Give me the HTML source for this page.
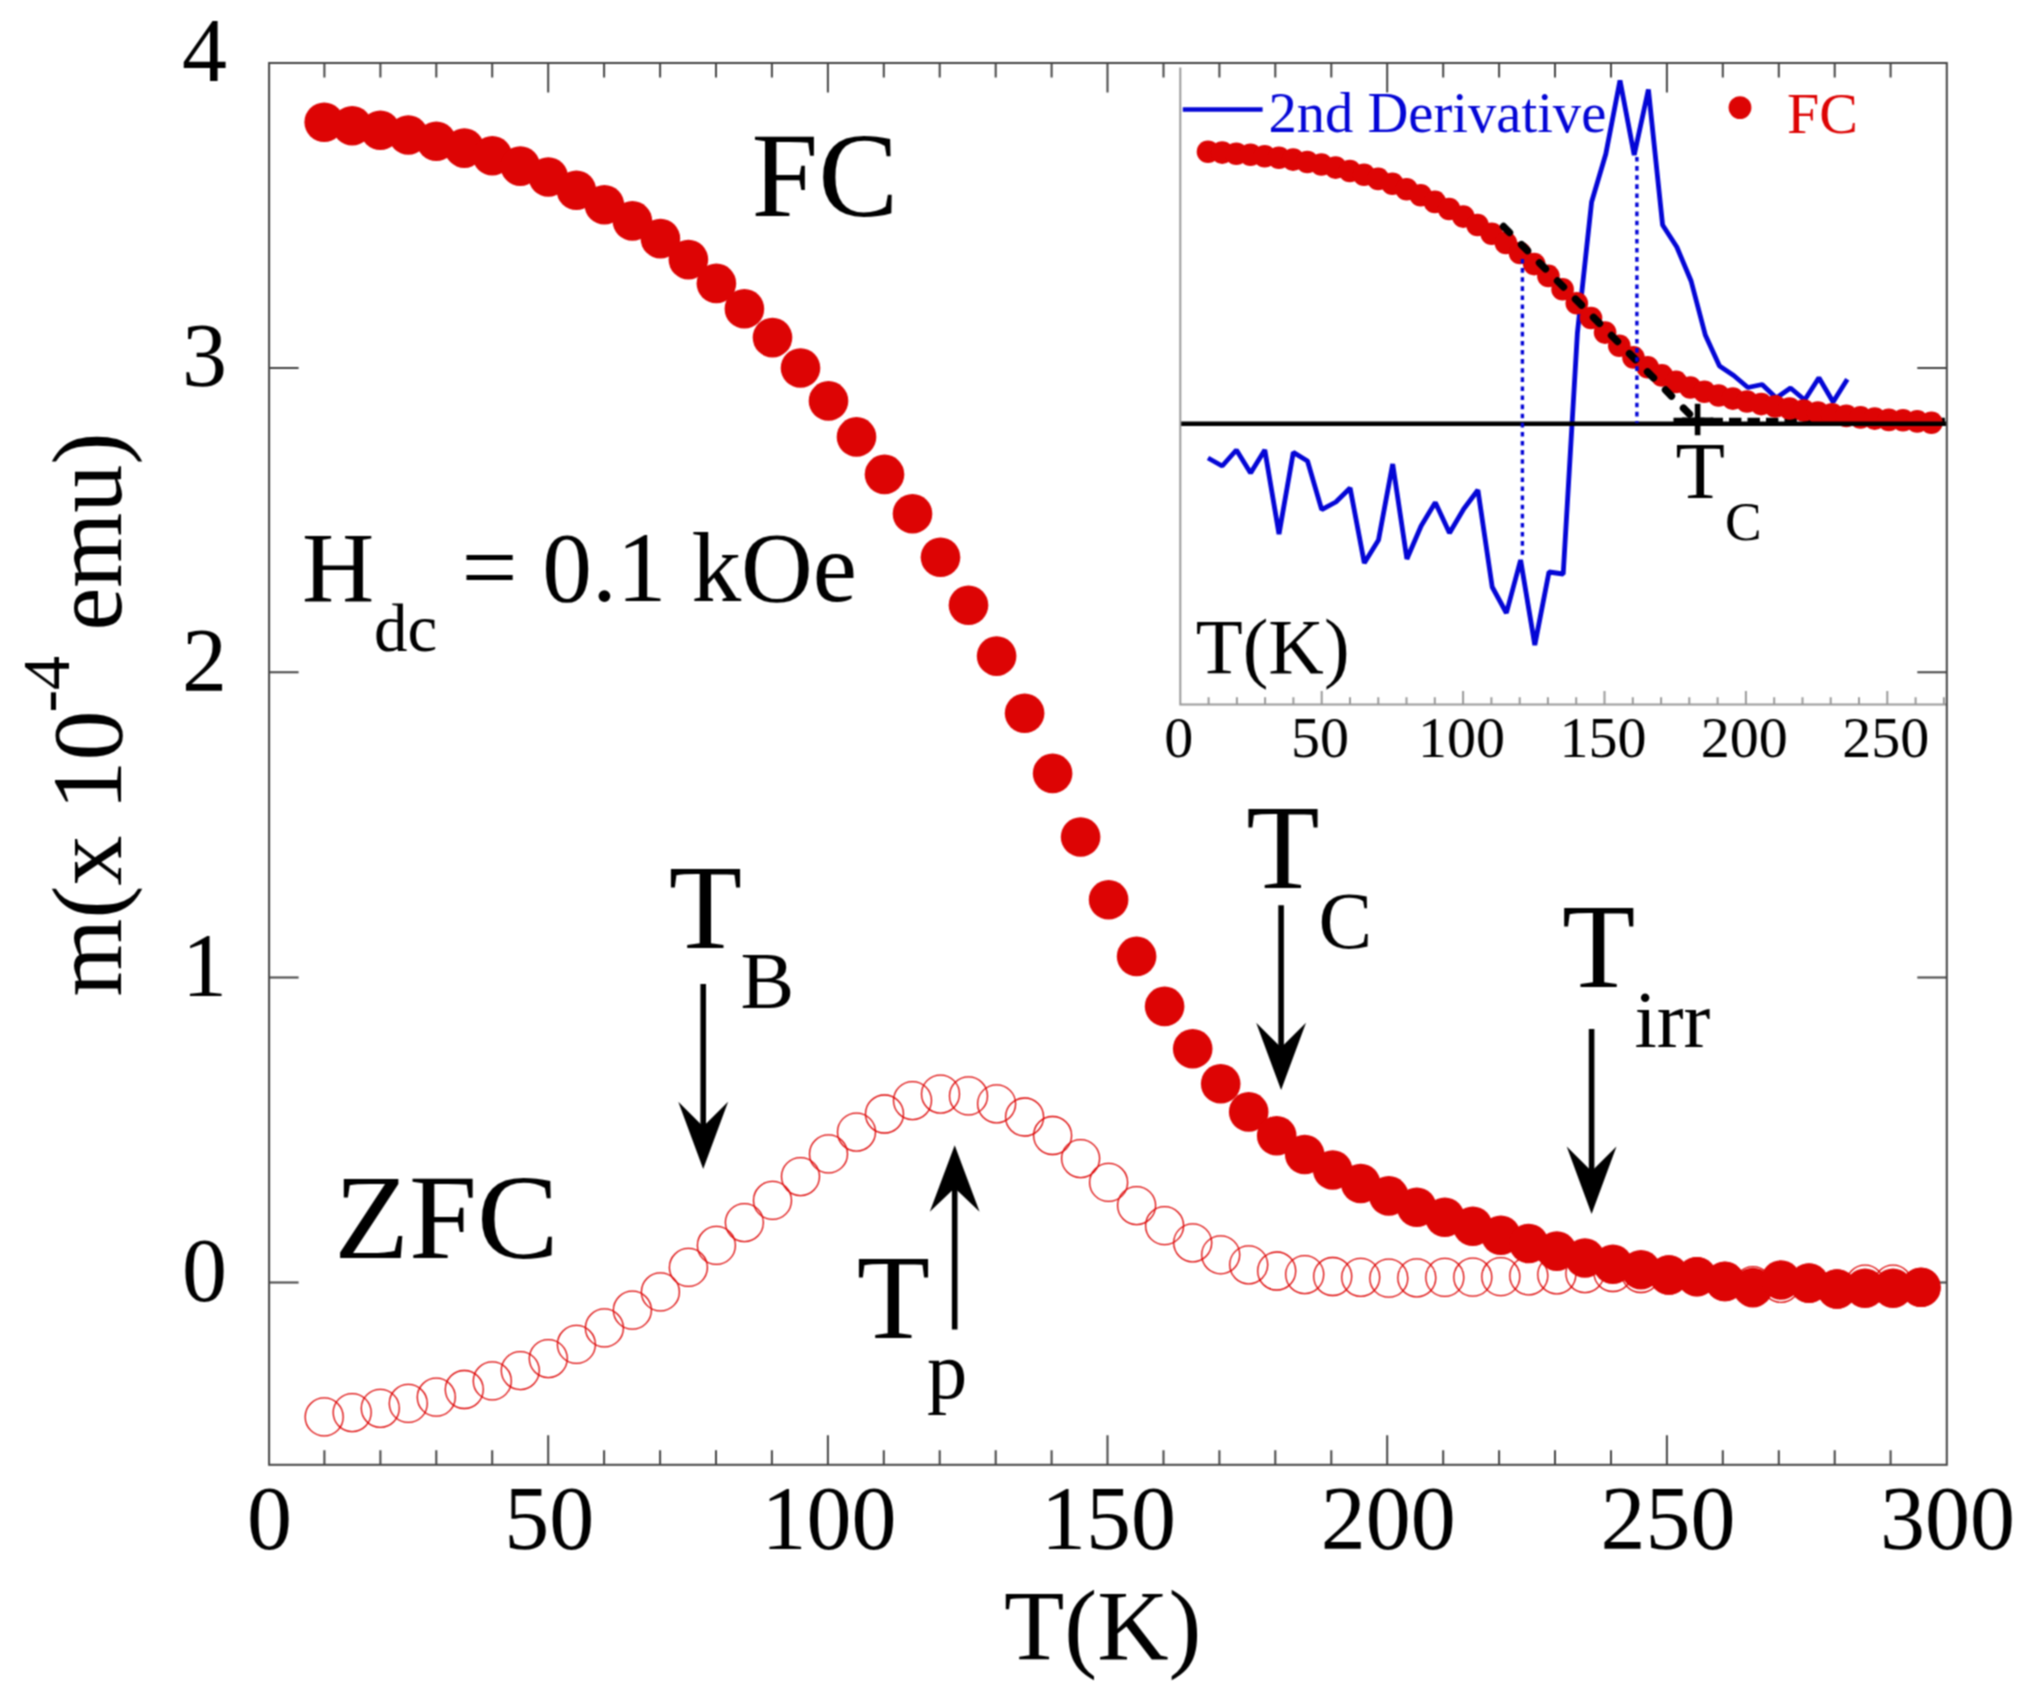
<!DOCTYPE html>
<html lang="en"><head><meta charset="utf-8"><title>FC / ZFC magnetization versus temperature</title>
<style>
html,body{margin:0;padding:0;background:#fff;}
body{width:2030px;height:1701px;overflow:hidden;}
svg{display:block;}
text{font-family:"Liberation Serif",serif;fill:#000;}
.tk{stroke:#444444;stroke-width:2;fill:none;}
.itk{stroke:#999999;stroke-width:2;fill:none;}
.ax{font-size:90px;}
.ttl{font-size:100px;}
.big{font-size:120px;}
.iax{font-size:58px;}
.arr{stroke:#000;stroke-width:5.6;fill:none;}
</style></head><body>
<svg width="2030" height="1701" viewBox="0 0 2030 1701">
<defs><filter id="soft" filterUnits="userSpaceOnUse" x="-20" y="-20" width="2070" height="1741" color-interpolation-filters="sRGB"><feConvolveMatrix order="3" kernelMatrix="0.0625 0.125 0.0625 0.125 0.25 0.125 0.0625 0.125 0.0625" divisor="1" edgeMode="duplicate" preserveAlpha="true"/></filter></defs>
<g filter="url(#soft)">
<rect x="-20" y="-20" width="2070" height="1741" fill="#ffffff"/>
<g class="tk">
<path d="M324.4 63.0v14.5M324.4 1464.8v-14.5M380.4 63.0v14.5M380.4 1464.8v-14.5M436.3 63.0v14.5M436.3 1464.8v-14.5M492.2 63.0v14.5M492.2 1464.8v-14.5M548.2 63.0v29.5M548.2 1464.8v-29.5M604.1 63.0v14.5M604.1 1464.8v-14.5M660.1 63.0v14.5M660.1 1464.8v-14.5M716.0 63.0v14.5M716.0 1464.8v-14.5M771.9 63.0v14.5M771.9 1464.8v-14.5M827.9 63.0v29.5M827.9 1464.8v-29.5M883.8 63.0v14.5M883.8 1464.8v-14.5M939.7 63.0v14.5M939.7 1464.8v-14.5M995.7 63.0v14.5M995.7 1464.8v-14.5M1051.6 63.0v14.5M1051.6 1464.8v-14.5M1107.5 63.0v29.5M1107.5 1464.8v-29.5M1163.5 63.0v14.5M1163.5 1464.8v-14.5M1219.4 63.0v14.5M1219.4 1464.8v-14.5M1275.3 63.0v14.5M1275.3 1464.8v-14.5M1331.3 63.0v14.5M1331.3 1464.8v-14.5M1387.2 63.0v29.5M1387.2 1464.8v-29.5M1443.2 63.0v14.5M1443.2 1464.8v-14.5M1499.1 63.0v14.5M1499.1 1464.8v-14.5M1555.0 63.0v14.5M1555.0 1464.8v-14.5M1611.0 63.0v14.5M1611.0 1464.8v-14.5M1666.9 63.0v29.5M1666.9 1464.8v-29.5M1722.8 63.0v14.5M1722.8 1464.8v-14.5M1778.8 63.0v14.5M1778.8 1464.8v-14.5M1834.7 63.0v14.5M1834.7 1464.8v-14.5M1890.6 63.0v14.5M1890.6 1464.8v-14.5M269.1 367.9h29.5M1946.8 367.9h-29.5M269.1 672.3h29.5M1946.8 672.3h-29.5M269.1 977.4h29.5M1946.8 977.4h-29.5M269.1 1282.4h29.5M1946.8 1282.4h-29.5"/>
</g>
<g class="ax" text-anchor="end">
<text x="227" y="81.2">4</text>
<text x="227" y="386.1">3</text>
<text x="227" y="690.5">2</text>
<text x="227" y="995.6">1</text>
<text x="227" y="1300.6">0</text>
</g>
<g class="ax" text-anchor="middle">
<text x="269.5" y="1549">0</text>
<text x="549.2" y="1549">50</text>
<text x="828.9" y="1549">100</text>
<text x="1108.5" y="1549">150</text>
<text x="1388.2" y="1549">200</text>
<text x="1667.9" y="1549">250</text>
<text x="1947.6" y="1549">300</text>
</g>
<text class="ttl" x="1003.9" y="1658.6" textLength="197.5" lengthAdjust="spacingAndGlyphs">T(K)</text>
<g transform="translate(121.2 996.5) rotate(-90)">
<text class="ttl" x="0" y="0">m(x 10</text>
<text x="283.9" y="-52" font-size="68">-4</text>
<text class="ttl" x="366" y="0" textLength="198" lengthAdjust="spacingAndGlyphs">emu)</text>
</g>
<g fill="none" stroke="#dd0404" stroke-width="1.3">
<circle cx="324.2" cy="1416.9" r="19.0"/>
<circle cx="352.2" cy="1412.6" r="19.0"/>
<circle cx="380.3" cy="1408.3" r="19.0"/>
<circle cx="408.3" cy="1403.4" r="19.0"/>
<circle cx="436.3" cy="1397.2" r="19.0"/>
<circle cx="464.3" cy="1389.5" r="19.0"/>
<circle cx="492.3" cy="1380.9" r="19.0"/>
<circle cx="520.3" cy="1370.6" r="19.0"/>
<circle cx="548.3" cy="1358.6" r="19.0"/>
<circle cx="576.4" cy="1344.4" r="19.0"/>
<circle cx="604.4" cy="1327.9" r="19.0"/>
<circle cx="632.4" cy="1310.2" r="19.0"/>
<circle cx="660.4" cy="1291.9" r="19.0"/>
<circle cx="688.4" cy="1267.4" r="19.0"/>
<circle cx="716.4" cy="1245.4" r="19.0"/>
<circle cx="744.4" cy="1222.6" r="19.0"/>
<circle cx="772.5" cy="1200.4" r="19.0"/>
<circle cx="800.5" cy="1176.6" r="19.0"/>
<circle cx="828.5" cy="1153.9" r="19.0"/>
<circle cx="856.5" cy="1132.1" r="19.0"/>
<circle cx="884.5" cy="1114.0" r="19.0"/>
<circle cx="912.5" cy="1100.6" r="19.0"/>
<circle cx="940.5" cy="1094.1" r="19.0"/>
<circle cx="968.5" cy="1095.9" r="19.0"/>
<circle cx="996.6" cy="1103.8" r="19.0"/>
<circle cx="1024.6" cy="1117.0" r="19.0"/>
<circle cx="1052.6" cy="1135.5" r="19.0"/>
<circle cx="1080.6" cy="1158.6" r="19.0"/>
<circle cx="1108.6" cy="1182.4" r="19.0"/>
<circle cx="1136.6" cy="1205.6" r="19.0"/>
<circle cx="1164.6" cy="1225.7" r="19.0"/>
<circle cx="1192.7" cy="1242.8" r="19.0"/>
<circle cx="1220.7" cy="1254.8" r="19.0"/>
<circle cx="1248.7" cy="1264.8" r="19.0"/>
<circle cx="1276.7" cy="1271.0" r="19.0"/>
<circle cx="1304.7" cy="1274.6" r="19.0"/>
<circle cx="1332.7" cy="1276.5" r="19.0"/>
<circle cx="1360.7" cy="1277.3" r="19.0"/>
<circle cx="1388.8" cy="1278.2" r="19.0"/>
<circle cx="1416.8" cy="1277.8" r="19.0"/>
<circle cx="1444.8" cy="1277.4" r="19.0"/>
<circle cx="1472.8" cy="1277.2" r="19.0"/>
<circle cx="1500.8" cy="1276.7" r="19.0"/>
<circle cx="1528.8" cy="1275.8" r="19.0"/>
<circle cx="1556.8" cy="1274.8" r="19.0"/>
<circle cx="1584.9" cy="1273.6" r="19.0"/>
<circle cx="1612.9" cy="1272.5" r="19.0"/>
<circle cx="1640.9" cy="1273.5" r="19.0"/>
<circle cx="1668.9" cy="1275.0" r="19.0"/>
<circle cx="1696.9" cy="1276.7" r="19.0"/>
<circle cx="1724.9" cy="1281.5" r="19.0"/>
<circle cx="1752.9" cy="1285.6" r="19.0"/>
<circle cx="1781.0" cy="1283.3" r="19.0"/>
<circle cx="1809.0" cy="1283.1" r="19.0"/>
<circle cx="1837.0" cy="1289.0" r="19.0"/>
<circle cx="1865.0" cy="1284.2" r="19.0"/>
<circle cx="1893.0" cy="1284.2" r="19.0"/>
<circle cx="1921.0" cy="1287.4" r="19.0"/>
</g>
<g fill="#dd0404">
<circle cx="324.2" cy="122.2" r="19.8"/>
<circle cx="352.2" cy="125.7" r="19.8"/>
<circle cx="380.3" cy="130.3" r="19.8"/>
<circle cx="408.3" cy="135.0" r="19.8"/>
<circle cx="436.3" cy="141.2" r="19.8"/>
<circle cx="464.3" cy="148.1" r="19.8"/>
<circle cx="492.3" cy="155.7" r="19.8"/>
<circle cx="520.3" cy="166.1" r="19.8"/>
<circle cx="548.3" cy="177.0" r="19.8"/>
<circle cx="576.4" cy="190.3" r="19.8"/>
<circle cx="604.4" cy="204.8" r="19.8"/>
<circle cx="632.4" cy="220.9" r="19.8"/>
<circle cx="660.4" cy="238.6" r="19.8"/>
<circle cx="688.4" cy="259.6" r="19.8"/>
<circle cx="716.4" cy="283.4" r="19.8"/>
<circle cx="744.4" cy="308.8" r="19.8"/>
<circle cx="772.5" cy="337.6" r="19.8"/>
<circle cx="800.5" cy="368.0" r="19.8"/>
<circle cx="828.5" cy="400.9" r="19.8"/>
<circle cx="856.5" cy="436.9" r="19.8"/>
<circle cx="884.5" cy="474.4" r="19.8"/>
<circle cx="912.5" cy="513.8" r="19.8"/>
<circle cx="940.5" cy="557.3" r="19.8"/>
<circle cx="968.5" cy="605.2" r="19.8"/>
<circle cx="996.6" cy="656.1" r="19.8"/>
<circle cx="1024.6" cy="713.2" r="19.8"/>
<circle cx="1052.6" cy="773.4" r="19.8"/>
<circle cx="1080.6" cy="837.0" r="19.8"/>
<circle cx="1108.6" cy="899.7" r="19.8"/>
<circle cx="1136.6" cy="956.4" r="19.8"/>
<circle cx="1164.6" cy="1006.4" r="19.8"/>
<circle cx="1192.7" cy="1048.8" r="19.8"/>
<circle cx="1220.7" cy="1083.8" r="19.8"/>
<circle cx="1248.7" cy="1111.9" r="19.8"/>
<circle cx="1276.7" cy="1135.7" r="19.8"/>
<circle cx="1304.7" cy="1154.5" r="19.8"/>
<circle cx="1332.7" cy="1170.0" r="19.8"/>
<circle cx="1360.7" cy="1183.5" r="19.8"/>
<circle cx="1388.8" cy="1195.9" r="19.8"/>
<circle cx="1416.8" cy="1207.3" r="19.8"/>
<circle cx="1444.8" cy="1217.2" r="19.8"/>
<circle cx="1472.8" cy="1226.3" r="19.8"/>
<circle cx="1500.8" cy="1235.2" r="19.8"/>
<circle cx="1528.8" cy="1243.5" r="19.8"/>
<circle cx="1556.8" cy="1251.1" r="19.8"/>
<circle cx="1584.9" cy="1258.0" r="19.8"/>
<circle cx="1612.9" cy="1264.3" r="19.8"/>
<circle cx="1640.9" cy="1269.7" r="19.8"/>
<circle cx="1668.9" cy="1275.0" r="19.8"/>
<circle cx="1696.9" cy="1276.7" r="19.8"/>
<circle cx="1724.9" cy="1281.4" r="19.8"/>
<circle cx="1752.9" cy="1287.6" r="19.8"/>
<circle cx="1781.0" cy="1280.0" r="19.8"/>
<circle cx="1809.0" cy="1283.1" r="19.8"/>
<circle cx="1837.0" cy="1289.0" r="19.8"/>
<circle cx="1865.0" cy="1288.3" r="19.8"/>
<circle cx="1893.0" cy="1288.3" r="19.8"/>
<circle cx="1921.0" cy="1287.3" r="19.8"/>
</g>
<polyline points="1208.0,458.0 1222.2,466.0 1236.4,450.0 1250.6,473.0 1264.8,450.0 1279.0,534.0 1293.3,452.4 1307.5,461.0 1321.7,509.6 1335.9,502.0 1350.1,488.0 1364.3,563.0 1378.5,540.0 1392.7,464.0 1406.9,559.0 1421.1,526.0 1435.3,502.4 1449.5,533.0 1463.7,509.0 1477.9,490.0 1492.2,587.0 1506.4,613.0 1520.6,560.0 1534.8,645.0 1549.0,572.0 1563.2,574.0 1577.4,333.0 1591.6,202.0 1605.8,154.0 1620.0,80.4 1634.2,155.0 1648.4,89.6 1662.6,225.0 1676.8,247.0 1691.1,281.0 1705.3,335.0 1719.5,366.0 1733.7,375.5 1747.9,387.5 1762.1,384.5 1776.3,398.0 1790.5,388.0 1804.7,400.0 1818.9,377.7 1833.1,402.0 1847.3,379.2" fill="none" stroke="#0406d6" stroke-width="4.8" stroke-linejoin="bevel"/>
<path d="M1673.5 420.6H1946.8" stroke="#000" stroke-width="5.6" stroke-dasharray="12.4 6.1" fill="none"/>
<g fill="#dd0404">
<circle cx="1208.0" cy="151.8" r="11.3"/>
<circle cx="1222.2" cy="152.6" r="11.3"/>
<circle cx="1236.3" cy="153.7" r="11.3"/>
<circle cx="1250.5" cy="154.8" r="11.3"/>
<circle cx="1264.7" cy="156.2" r="11.3"/>
<circle cx="1278.9" cy="157.8" r="11.3"/>
<circle cx="1293.1" cy="159.6" r="11.3"/>
<circle cx="1307.3" cy="162.0" r="11.3"/>
<circle cx="1321.4" cy="164.5" r="11.3"/>
<circle cx="1335.6" cy="167.6" r="11.3"/>
<circle cx="1349.8" cy="171.0" r="11.3"/>
<circle cx="1364.0" cy="174.7" r="11.3"/>
<circle cx="1378.2" cy="178.9" r="11.3"/>
<circle cx="1392.4" cy="183.7" r="11.3"/>
<circle cx="1406.6" cy="189.3" r="11.3"/>
<circle cx="1420.7" cy="195.2" r="11.3"/>
<circle cx="1434.9" cy="201.9" r="11.3"/>
<circle cx="1449.1" cy="209.0" r="11.3"/>
<circle cx="1463.3" cy="216.6" r="11.3"/>
<circle cx="1477.5" cy="225.0" r="11.3"/>
<circle cx="1491.7" cy="233.7" r="11.3"/>
<circle cx="1505.9" cy="242.9" r="11.3"/>
<circle cx="1520.0" cy="253.0" r="11.3"/>
<circle cx="1534.2" cy="264.1" r="11.3"/>
<circle cx="1548.4" cy="275.9" r="11.3"/>
<circle cx="1562.6" cy="289.2" r="11.3"/>
<circle cx="1576.8" cy="303.2" r="11.3"/>
<circle cx="1591.0" cy="318.0" r="11.3"/>
<circle cx="1605.1" cy="332.6" r="11.3"/>
<circle cx="1619.3" cy="345.8" r="11.3"/>
<circle cx="1633.5" cy="357.4" r="11.3"/>
<circle cx="1647.7" cy="367.3" r="11.3"/>
<circle cx="1661.9" cy="375.4" r="11.3"/>
<circle cx="1676.1" cy="381.9" r="11.3"/>
<circle cx="1690.3" cy="387.5" r="11.3"/>
<circle cx="1704.4" cy="391.8" r="11.3"/>
<circle cx="1718.6" cy="395.5" r="11.3"/>
<circle cx="1732.8" cy="398.6" r="11.3"/>
<circle cx="1747.0" cy="401.5" r="11.3"/>
<circle cx="1761.2" cy="404.1" r="11.3"/>
<circle cx="1775.4" cy="406.4" r="11.3"/>
<circle cx="1789.6" cy="408.5" r="11.3"/>
<circle cx="1803.7" cy="410.6" r="11.3"/>
<circle cx="1817.9" cy="412.5" r="11.3"/>
<circle cx="1832.1" cy="414.3" r="11.3"/>
<circle cx="1846.3" cy="415.9" r="11.3"/>
<circle cx="1860.5" cy="417.4" r="11.3"/>
<circle cx="1874.7" cy="418.6" r="11.3"/>
<circle cx="1888.8" cy="419.9" r="11.3"/>
<circle cx="1903.0" cy="420.3" r="11.3"/>
<circle cx="1917.2" cy="421.4" r="11.3"/>
<circle cx="1931.4" cy="422.8" r="11.3"/>
</g>
<path d="M1180.3 423.7H1946.8" stroke="#000" stroke-width="4.4" fill="none"/>
<path d="M1503.5 226.5L1509.5 232.5M1521.5 244.6L1527.5 250.7M1539.5 262.8L1545.5 268.9M1557.5 281.0L1563.5 287.0M1575.5 299.2L1581.5 305.2M1593.5 317.3L1599.5 323.4M1611.5 335.5L1617.5 341.5M1629.5 353.7L1635.5 359.7M1647.5 371.8L1653.5 377.9M1665.5 390.0L1671.5 396.1M1683.5 408.2L1689.5 414.2" stroke="#000" stroke-width="7.4" stroke-linecap="round" fill="none"/>
<path d="M1697.6 403.8V435.2M1682 420.4H1713.3" stroke="#000" stroke-width="5.6" fill="none"/>
<path d="M1522.4 259V556M1636.9 157V423" stroke="#0406d6" stroke-width="3.4" stroke-dasharray="4.6 4.5" fill="none"/>
<g class="itk">
<path d="M1180.3 67.5V704.6H1946.8M1208.6 704.6v-7.3M1236.9 704.6v-7.3M1265.1 704.6v-7.3M1293.4 704.6v-7.3M1321.7 704.6v-13.6M1350.0 704.6v-7.3M1378.3 704.6v-7.3M1406.5 704.6v-7.3M1434.8 704.6v-7.3M1463.1 704.6v-13.6M1491.4 704.6v-7.3M1519.7 704.6v-7.3M1547.9 704.6v-7.3M1576.2 704.6v-7.3M1604.5 704.6v-13.6M1632.8 704.6v-7.3M1661.1 704.6v-7.3M1689.3 704.6v-7.3M1717.6 704.6v-7.3M1745.9 704.6v-13.6M1774.2 704.6v-7.3M1802.5 704.6v-7.3M1830.7 704.6v-7.3M1859.0 704.6v-7.3M1887.3 704.6v-13.6M1915.6 704.6v-7.3M1943.9 704.6v-7.3"/>
</g>
<g class="iax" text-anchor="middle">
<text x="1178.7" y="757.4">0</text>
<text x="1320.1" y="757.4">50</text>
<text x="1461.5" y="757.4">100</text>
<text x="1602.9" y="757.4">150</text>
<text x="1744.3" y="757.4">200</text>
<text x="1885.7" y="757.4">250</text>
</g>
<text x="1195.8" y="672.6" font-size="79" textLength="153.7" lengthAdjust="spacingAndGlyphs">T(K)</text>
<path d="M1182.8 109.5H1262.6" stroke="#0406d6" stroke-width="4.7" fill="none"/>
<text x="1268.4" y="131.6" font-size="56.6" style="fill:#0406d6">2nd Derivative</text>
<circle cx="1740" cy="107.6" r="11.4" fill="#dd0404"/>
<text x="1787" y="133" font-size="58" style="fill:#dd0404">FC</text>
<text x="1675.6" y="498" font-size="81">T<tspan font-size="55" dy="41.5">C</tspan></text>
<rect x="269.1" y="63.0" width="1677.7" height="1401.8" class="tk"/>
<text class="big" x="751.4" y="215.6" font-size="118">FC</text>
<text class="big" x="334.2" y="1258.3" textLength="224.3" lengthAdjust="spacingAndGlyphs">ZFC</text>
<text class="ttl" x="301.9" y="600.9">H<tspan font-size="67" dy="50">dc</tspan><tspan dy="-50" dx="-0.8" font-size="99.4"> = 0.1 kOe</tspan></text>
<text class="big" x="668.8" y="947.5">T<tspan font-size="80.5" x="740.4" dy="60">B</tspan></text>
<text class="big" x="1246.2" y="887.6">T<tspan font-size="80.5" x="1318.4" dy="60">C</tspan></text>
<text class="big" x="1562.1" y="986.5">T<tspan font-size="80.5" x="1634.4" dy="60">irr</tspan></text>
<text class="big" x="856.7" y="1338.0">T<tspan font-size="80.5" x="927.0" dy="60">p</tspan></text>
<path class="arr" d="M703.2 984.0V1138.3"/>
<path d="M703.2 1169.1L678.3 1101.8L703.2 1126.5L728.1 1101.8Z" fill="#000"/>
<path class="arr" d="M1281.1 905.2V1059.3"/>
<path d="M1281.1 1090.1L1256.2 1022.8L1281.1 1047.5L1306.0 1022.8Z" fill="#000"/>
<path class="arr" d="M1591.6 1029.0V1183.1"/>
<path d="M1591.6 1213.9L1566.7 1146.6L1591.6 1171.3L1616.5 1146.6Z" fill="#000"/>
<path class="arr" d="M954.7 1329.4V1175.6"/>
<path d="M954.7 1145.2L929.8 1211.8L954.7 1187.9L979.6 1211.8Z" fill="#000"/>
</g>
</svg>
</body></html>
